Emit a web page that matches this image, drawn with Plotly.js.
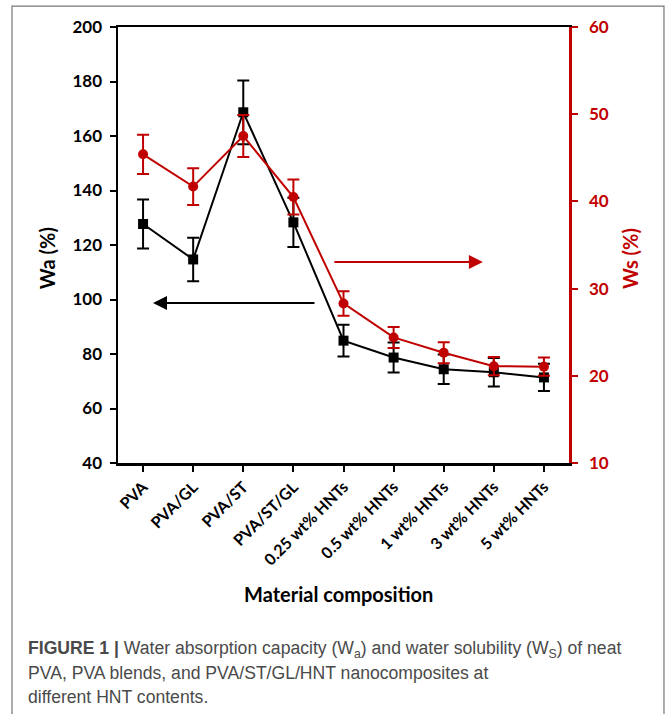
<!DOCTYPE html>
<html>
<head>
<meta charset="utf-8">
<script src="https://cdn.plot.ly/plotly-3.0.1.min.js"></script>
<style>html,body{margin:0;padding:0;background:#fff;}#chart{width:667px;height:714px;}</style>
</head>
<body>
<div id="chart"></div>
<script>
const categories = ['PVA','PVA/GL','PVA/ST','PVA/ST/GL','0.25 wt% HNTs','0.5 wt% HNTs','1 wt% HNTs','3 wt% HNTs','5 wt% HNTs'];
const waValues = [127.7,114.7,168.7,128.3,84.9,78.7,74.4,73.3,71.4];
const waErrors = [9,8,11.7,9,5.8,5.5,5.4,5.2,5];
const wsValues = [45.4,41.7,47.5,40.5,28.3,24.4,22.65,21.1,21.05];
const wsErrors = [2.25,2.1,2.4,2,1.4,1.2,1.2,1.05,1.05];
const leftTicks = [40,60,80,100,120,140,160,180,200];
const rightTicks = [10,20,30,40,50,60];

const RED = '#c00000';
const tickFont = {family:'Lato, "Open Sans", sans-serif', size:17, weight:700};

const traces = [
  {x:categories, y:waValues, type:'scatter', mode:'lines+markers', name:'Wa',
   line:{color:'#000', width:2}, marker:{symbol:'square', size:10, color:'#000'},
   error_y:{type:'data', array:waErrors, visible:true, color:'#000', thickness:2, width:6}},
  {x:categories, y:wsValues, type:'scatter', mode:'lines+markers', name:'Ws', yaxis:'y2',
   line:{color:RED, width:2}, marker:{symbol:'circle', size:10, color:RED},
   error_y:{type:'data', array:wsErrors, visible:true, color:RED, thickness:2, width:6}}
];

const capFont = {family:'"Liberation Sans", Arimo, sans-serif', size:17.6, color:'#4a4a4a'};

const layout = {
  width:667, height:714,
  margin:{l:118, r:98, t:27, b:251},
  paper_bgcolor:'#fff', plot_bgcolor:'#fff',
  showlegend:false,
  xaxis:{type:'category', range:[-0.5,8.5], showline:true, linecolor:'#000', linewidth:2.5, mirror:true,
    ticks:'outside', ticklen:6, tickwidth:2, tickcolor:'#000', tickangle:-45,
    tickfont:Object.assign({}, tickFont, {size:16, color:'#000'}), showgrid:false, zeroline:false},
  yaxis:{range:[40,200], tickvals:leftTicks, ticks:'outside', ticklen:6, tickwidth:2, tickcolor:'#000',
    showline:true, linecolor:'#000', linewidth:2.5, showgrid:false, zeroline:false, ticklabelstandoff:4,
    tickfont:Object.assign({}, tickFont, {color:'#000'})},
  yaxis2:{range:[10,60], tickvals:rightTicks, overlaying:'y', side:'right', ticks:'outside', ticklen:6, tickwidth:2,
    tickcolor:RED, showline:true, linecolor:RED, linewidth:2.5, showgrid:false, zeroline:false, ticklabelstandoff:8,
    tickfont:Object.assign({}, tickFont, {color:RED})},
  shapes:[
    {type:'rect', xref:'paper', yref:'paper', x0:-0.235, x1:1.2106, y0:-0.65, y1:1.048,
     line:{color:'#777', width:1.2}, fillcolor:'rgba(0,0,0,0)', layer:'below'}
  ],
  annotations:[
    {xref:'paper', yref:'paper', x:-0.157, y:0.47, xanchor:'center', yanchor:'middle', text:'Wa (%)', textangle:-90, showarrow:false,
     font:{family:'Lato, "Open Sans", sans-serif', size:20, weight:700, color:'#000'}},
    {xref:'paper', yref:'paper', x:1.135, y:0.47, xanchor:'center', yanchor:'middle', text:'Ws (%)', textangle:-90, showarrow:false,
     font:{family:'Lato, "Open Sans", sans-serif', size:20, weight:700, color:RED}},
    {xref:'paper', yref:'paper', x:0.488, y:-0.30, xanchor:'center', yanchor:'middle', text:'Material composition', showarrow:false,
     font:{family:'Lato, "Open Sans", sans-serif', size:20, weight:700, color:'#000'}},
    {xref:'paper', yref:'paper', x:0.0776, y:0.367, text:'', showarrow:true, ax:163, ay:0,
     arrowhead:2, arrowsize:1.4, arrowwidth:2, arrowcolor:'#000'},
    {xref:'paper', yref:'paper', x:0.809, y:0.461, text:'', showarrow:true, ax:-150, ay:0,
     arrowhead:2, arrowsize:1.4, arrowwidth:2, arrowcolor:RED},
    {xref:'paper', yref:'paper', x:-0.204, y:(463-649)/436, xanchor:'left', yanchor:'middle', align:'left', showarrow:false,
     text:'<b>FIGURE 1 |</b> Water absorption capacity (W<sub>a</sub>) and water solubility (W<sub>S</sub>) of neat', font:capFont},
    {xref:'paper', yref:'paper', x:-0.204, y:(463-673)/436, xanchor:'left', yanchor:'middle', align:'left', showarrow:false,
     text:'PVA, PVA blends, and PVA/ST/GL/HNT nanocomposites at', font:capFont},
    {xref:'paper', yref:'paper', x:-0.204, y:(463-697)/436, xanchor:'left', yanchor:'middle', align:'left', showarrow:false,
     text:'different HNT contents.', font:capFont}
  ]
};

Plotly.newPlot('chart', traces, layout, {displayModeBar:false, staticPlot:true});
</script>
</body>
</html>
